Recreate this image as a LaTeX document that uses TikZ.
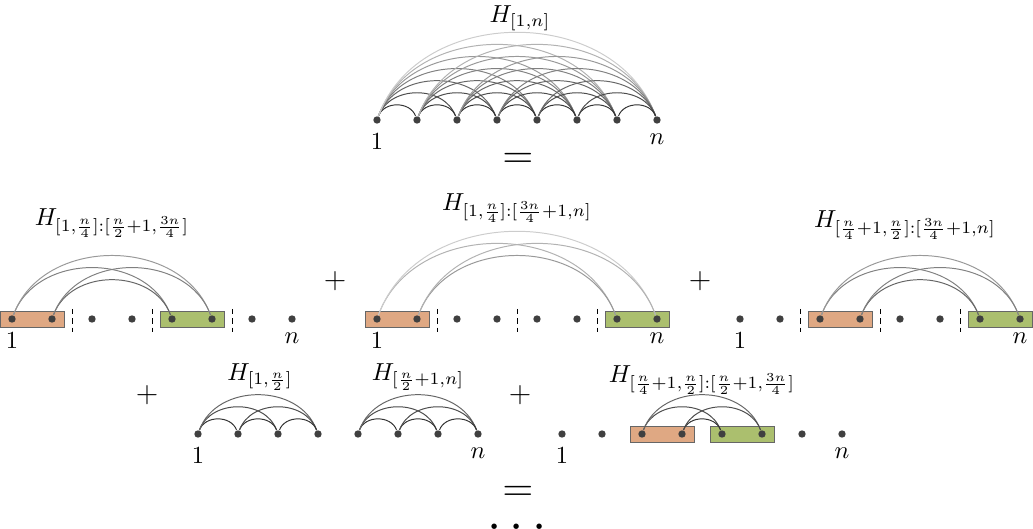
\documentclass[tikz,border=0pt]{standalone}
\usetikzlibrary{positioning,calc,backgrounds}
\definecolor{blkA}{RGB}{223,168,131}
\definecolor{blkB}{RGB}{171,191,110}
\tikzset{
  vtx/.style={circle,fill=black!75,inner sep=0pt,minimum size=3pt},
  edge/.style={line width=0.4pt,bend left=70,looseness=1.1},
  blk/.style={draw=black!60,line width=0.4pt},
  sep/.style={line width=0.4pt,dash pattern=on 2.2pt off 1.6pt},
}
\begin{document}
\begin{tikzpicture}[x=0.0143cm,y=-0.0143cm]
\useasboundingbox (0,0) rectangle (1033,529);
% the whole graph
\node (ht) at (520,18) {$H_{[1,n]}$};
\foreach \i in {1,...,8} \node[vtx] (t\i) at ({337+40*\i},120) {};
\foreach \i in {1,...,7} {
  \pgfmathtruncatemacro\s{\i+1}
  \foreach \j in {\s,...,8} {
    \pgfmathtruncatemacro\g{90-10*(\j-\i)}
    \draw[edge,black!\g] (t\i) to (t\j);
  }
}
\node[below=0.5pt of t1] (t1l) {$1$};
\node[below=0.5pt of t8] (t8l) {$n$};
\node[font=\LARGE] (eq1) at (518,161) {$=$};

% second row, three bipartite pieces
\node (ha) at (112,223) {$H_{[1,\frac{n}{4}]:[\frac{n}{2}+1,\frac{3n}{4}]}$};
\node (hb) at (517,208) {$H_{[1,\frac{n}{4}]:[\frac{3n}{4}+1,n]}$};
\node (hc) at (905,225) {$H_{[\frac{n}{4}+1,\frac{n}{2}]:[\frac{3n}{4}+1,n]}$};
\foreach \i in {1,...,8} {
  \node[vtx] (a\i) at ({-28+40*\i},319) {};
  \node[vtx] (b\i) at ({337+40*\i},319) {};
  \node[vtx] (c\i) at ({700+40*\i},319) {};
}
\begin{scope}[on background layer]
\draw[blk,fill=blkA] ($(a1)+(-12,-8)$) rectangle ($(a2)+(12,8)$);
\draw[blk,fill=blkB] ($(a5)+(-12,-8)$) rectangle ($(a6)+(12,8)$);
\draw[blk,fill=blkA] ($(b1)+(-12,-8)$) rectangle ($(b2)+(12,8)$);
\draw[blk,fill=blkB] ($(b7)+(-12,-8)$) rectangle ($(b8)+(12,8)$);
\draw[blk,fill=blkA] ($(c3)+(-12,-8)$) rectangle ($(c4)+(12,8)$);
\draw[blk,fill=blkB] ($(c7)+(-12,-8)$) rectangle ($(c8)+(12,8)$);
\end{scope}
\foreach \r in {a,b,c}
  \foreach \p/\q in {2/3,4/5,6/7}
    \draw[sep] ($(\r\p)!0.5!(\r\q)+(0,-10)$) -- ($(\r\p)!0.5!(\r\q)+(0,13)$);
\foreach \i/\j in {1/5,1/6,2/5,2/6} {
  \pgfmathtruncatemacro\g{90-10*(\j-\i)}
  \draw[edge,black!\g] (a\i) to (a\j);
}
\foreach \i/\j in {1/7,1/8,2/7,2/8} {
  \pgfmathtruncatemacro\g{90-10*(\j-\i)}
  \draw[edge,black!\g] (b\i) to (b\j);
}
\foreach \i/\j in {3/7,3/8,4/7,4/8} {
  \pgfmathtruncatemacro\g{90-10*(\j-\i)}
  \draw[edge,black!\g] (c\i) to (c\j);
}
\node[below=0.5pt of a1] (a1l) {$1$};
\node[below=0.5pt of a8] (a8l) {$n$};
\node[below=0.5pt of b1] (b1l) {$1$};
\node[below=0.5pt of b8] (b8l) {$n$};
\node[below=0.5pt of c1] (c1l) {$1$};
\node[below=0.5pt of c8] (c8l) {$n$};
\node[font=\large] (pl1) at (335,281) {$+$};
\node[font=\large] (pl2) at (700,281) {$+$};

% third row, the two halves and the middle piece
\node[font=\large] (pl3) at (147,395) {$+$};
\node[font=\large] (pl4) at (520,395) {$+$};
\node (hd) at (260,377) {$H_{[1,\frac{n}{2}]}$};
\node (he) at (418,377) {$H_{[\frac{n}{2}+1,n]}$};
\node (hf) at (702,380) {$H_{[\frac{n}{4}+1,\frac{n}{2}]:[\frac{n}{2}+1,\frac{3n}{4}]}$};
\foreach \i in {1,...,4} {
  \node[vtx] (d\i) at ({158+40*\i},434) {};
  \node[vtx] (e\i) at ({318+40*\i},434) {};
}
\foreach \i in {1,...,8} \node[vtx] (f\i) at ({522+40*\i},434) {};
\begin{scope}[on background layer]
\draw[blk,fill=blkA] ($(f3)+(-12,-8)$) rectangle ($(f4)+(12,8)$);
\draw[blk,fill=blkB] ($(f5)+(-12,-8)$) rectangle ($(f6)+(12,8)$);
\end{scope}
\foreach \i in {1,...,3} {
  \pgfmathtruncatemacro\s{\i+1}
  \foreach \j in {\s,...,4} {
    \pgfmathtruncatemacro\g{90-10*(\j-\i)}
    \draw[edge,black!\g] (d\i) to (d\j);
    \draw[edge,black!\g] (e\i) to (e\j);
  }
}
\foreach \i/\j in {3/5,3/6,4/5,4/6} {
  \pgfmathtruncatemacro\g{90-10*(\j-\i)}
  \draw[edge,black!\g] (f\i) to (f\j);
}
\node[below=0.5pt of d1] (d1l) {$1$};
\node[below=0.5pt of e4] (e4l) {$n$};
\node[below=0.5pt of f1] (f1l) {$1$};
\node[below=0.5pt of f8] (f8l) {$n$};
\node[font=\LARGE] (eq2) at (518,494) {$=$};
\node[font=\huge] (dots) at (517,528) {$\cdots$};
\end{tikzpicture}
\end{document}
